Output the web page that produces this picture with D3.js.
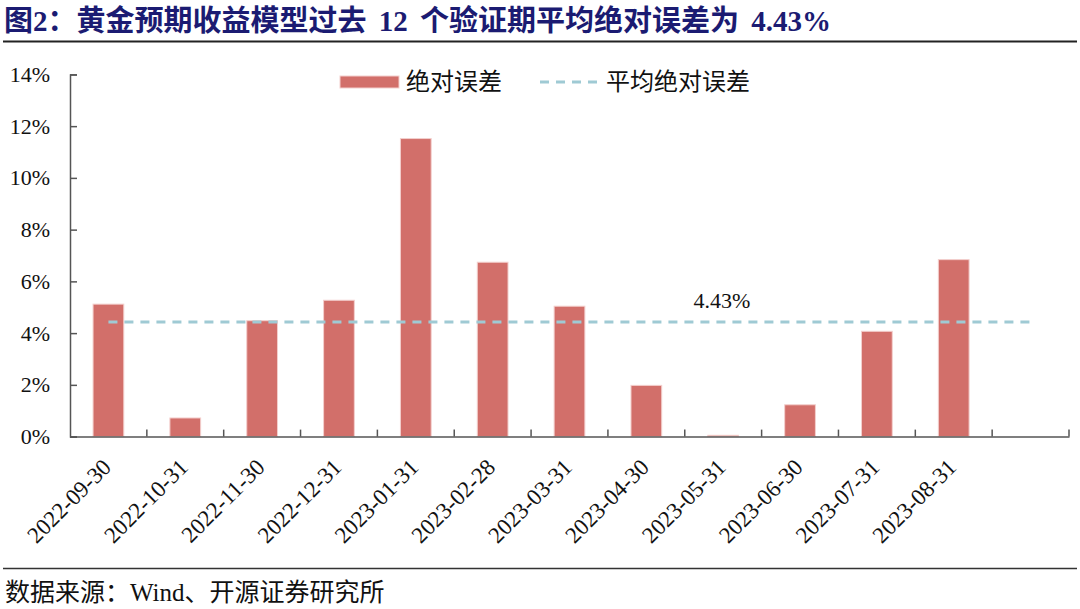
<!DOCTYPE html>
<html><head><meta charset="utf-8">
<script src="https://cdn.jsdelivr.net/npm/d3@7"></script>
<style>
body{margin:0;background:#fff;}
svg{display:block;}
</style></head>
<body>
<svg id="c" width="1080" height="609"></svg>
<script>
const categories = ["2022-09-30","2022-10-31","2022-11-30","2022-12-31","2023-01-31","2023-02-28","2023-03-31","2023-04-30","2023-05-31","2023-06-30","2023-07-31","2023-08-31",""];
const absError = [5.12,0.72,4.48,5.27,11.52,6.74,5.04,1.98,0.05,1.23,4.07,6.84,null];
const meanAbsError = 4.43;
const yTicks = [0,2,4,6,8,10,12,14];
const titleText = "图2：黄金预期收益模型过去 12 个验证期平均绝对误差为 4.43%";
const sourceText = "数据来源：Wind、开源证券研究所";
const legendLabels = ["绝对误差","平均绝对误差"];

const FONT = "'Liberation Serif','Times New Roman','Noto Sans CJK SC',serif";
const svg = d3.select("#c");
const m = {left:70, right:1069, top:74.4, bottom:436.6};

// Title
svg.append("text").attr("x",4).attr("y",31)
  .attr("font-family",FONT).attr("font-weight","bold").attr("font-size",29)
  .attr("word-spacing",5)
  .attr("fill","#1b1b72").text(titleText);
svg.append("line").attr("x1",3).attr("x2",1077).attr("y1",41.5).attr("y2",41.5)
  .attr("stroke","#222").attr("stroke-width",2);

// Footer
svg.append("line").attr("x1",3).attr("x2",1077).attr("y1",568.5).attr("y2",568.5)
  .attr("stroke","#333").attr("stroke-width",1.5);
svg.append("text").attr("x",5).attr("y",601)
  .attr("font-family",FONT).attr("font-size",25).attr("fill","#111").text(sourceText);

// Scales
const x = d3.scaleBand().domain(d3.range(categories.length)).range([m.left,m.right]).paddingInner(0).paddingOuter(0);
const y = d3.scaleLinear().domain([0,14]).range([m.bottom,m.top]);
const barW = x.bandwidth()*0.4;

// Bars
svg.append("g").selectAll("rect").data(absError.map((v,i)=>({v,i})).filter(d=>d.v!=null))
  .join("rect")
  .attr("x",d=>x(d.i)+x.bandwidth()/2-barW/2)
  .attr("y",d=>y(d.v))
  .attr("width",barW)
  .attr("height",d=>y(0)-y(d.v))
  .attr("fill","#d26f6a").attr("stroke","#f3cfcd").attr("stroke-width",1);

// Mean line
const lineData = categories.map((c,i)=>({i,v:meanAbsError}));
svg.append("path")
  .attr("d",d3.line().x(d=>x(d.i)+x.bandwidth()/2).y(d=>y(d.v))(lineData))
  .attr("fill","none").attr("stroke","#9fcad4").attr("stroke-width",3)
  .attr("stroke-dasharray","9,7");
svg.append("text").attr("x",722).attr("y",308).attr("text-anchor","middle")
  .attr("font-family",FONT).attr("font-size",22).attr("fill","#111")
  .text(meanAbsError.toFixed(2)+"%");

// Y axis
const yAxis = d3.axisLeft(y).tickValues(yTicks).tickSize(-7).tickPadding(20).tickFormat(d=>d+"%");
const gy = svg.append("g").attr("transform",`translate(${m.left},0)`).call(yAxis);
gy.select(".domain").attr("stroke","#555").attr("stroke-width",1.5);
gy.selectAll(".tick line").attr("stroke","#555").attr("stroke-width",1.5);
gy.selectAll(".tick text").attr("font-family",FONT).attr("font-size",22).attr("fill","#111");

// X axis
const xAxis = d3.axisBottom(x).tickSize(0).tickFormat(i=>categories[i]);
const gx = svg.append("g").attr("transform",`translate(0,${m.bottom})`).call(xAxis);
gx.select(".domain").attr("stroke","#555").attr("stroke-width",1.5);
gx.selectAll(".tick text").attr("font-family",FONT).attr("font-size",23).attr("fill","#111")
  .attr("text-anchor","end").attr("dy",0)
  .attr("transform","translate(4,32) rotate(-45)").attr("y",0).attr("x",0);
// boundary tick marks between categories
const bounds = d3.range(1,categories.length+1).map(i=>m.left+i*x.bandwidth());
svg.append("g").selectAll("line").data(bounds).join("line")
  .attr("x1",d=>d).attr("x2",d=>d).attr("y1",m.bottom).attr("y2",m.bottom-7)
  .attr("stroke","#555").attr("stroke-width",1.5);

// Legend
const lg = svg.append("g");
lg.append("rect").attr("x",340).attr("y",76).attr("width",59).attr("height",12)
  .attr("fill","#d26f6a").attr("stroke","#f3cfcd");
lg.append("text").attr("x",406).attr("y",90).attr("font-family",FONT).attr("font-size",24)
  .attr("fill","#111").text(legendLabels[0]);
lg.append("line").attr("x1",540).attr("x2",598).attr("y1",82).attr("y2",82)
  .attr("stroke","#9fcad4").attr("stroke-width",3).attr("stroke-dasharray","9,7");
lg.append("text").attr("x",606).attr("y",90).attr("font-family",FONT).attr("font-size",24)
  .attr("fill","#111").text(legendLabels[1]);
</script>
</body></html>
